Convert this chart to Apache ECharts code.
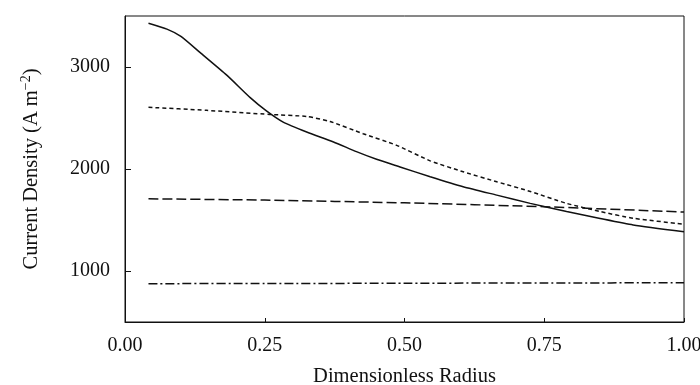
<!DOCTYPE html>
<html>
<head>
<meta charset="utf-8">
<script src="https://cdn.jsdelivr.net/npm/echarts@6/dist/echarts.min.js"></script>
<style>
  html, body { margin: 0; padding: 0; background: #fff; }
  #chart { width: 700px; height: 385px; }
</style>
</head>
<body>
<div id="chart"></div>
<script>
const myChart = echarts.init(document.getElementById('chart'));

// radius positions (dimensionless) and current density (A m^-2)
const solidX = [0.042, 0.075, 0.1, 0.134, 0.182, 0.224, 0.253, 0.283, 0.325, 0.373, 0.414, 0.45, 0.492, 0.546, 0.605, 0.665, 0.725, 0.79, 0.85, 0.909, 1.0];
const solidY = [3429, 3371, 3300, 3143, 2920, 2700, 2570, 2460, 2363, 2265, 2170, 2095, 2020, 1924, 1826, 1744, 1663, 1583, 1515, 1452, 1385];

const dottedX = [0.042, 0.146, 0.259, 0.325, 0.367, 0.426, 0.486, 0.546, 0.605, 0.665, 0.725, 0.79, 0.85, 0.909, 1.0];
const dottedY = [2605, 2575, 2535, 2515, 2465, 2346, 2232, 2080, 1973, 1875, 1780, 1663, 1583, 1517, 1459];

const dashedX = [0.042, 0.25, 0.5, 0.75, 1.0];
const dashedY = [1708, 1695, 1668, 1630, 1578];

const dashDotX = [0.042, 0.25, 0.5, 0.75, 1.0];
const dashDotY = [876, 877, 880, 883, 884];

const yTicks = [1000, 2000, 3000];

function pairs(xs, ys) {
  return xs.map(function (x, i) { return [x, ys[i]]; });
}

const font = 'Liberation Serif';
const ink = '#111';

function line(name, xs, ys, type) {
  return {
    name: name,
    type: 'line',
    data: pairs(xs, ys),
    smooth: 0.2,
    showSymbol: false,
    lineStyle: { color: ink, width: 1.5, type: type }
  };
}

let options = {
  animation: false,
  backgroundColor: '#fff',
  grid: {
    left: 125,
    right: 16,
    top: 16,
    bottom: 63,
    outerBoundsMode: 'none',
    containLabel: false,
    show: true,
    borderColor: ink,
    borderWidth: 1
  },
  xAxis: {
    type: 'value',
    min: 0,
    max: 1,
    interval: 0.25,
    name: 'Dimensionless Radius',
    nameLocation: 'middle',
    nameGap: 44,
    nameTextStyle: { fontFamily: font, fontSize: 20.5, color: ink },
    axisLine: { lineStyle: { color: ink } },
    axisTick: { inside: true, length: 4, lineStyle: { color: ink } },
    axisLabel: {
      margin: 14,
      fontFamily: font,
      fontSize: 20,
      color: ink,
      formatter: function (v) { return v.toFixed(2); }
    },
    splitLine: { show: false }
  },
  yAxis: {
    type: 'value',
    min: 500,
    max: 3500,
    name: 'Current Density (A m{sup|−2})',
    nameLocation: 'middle',
    nameGap: 80,
    nameTextStyle: {
      fontFamily: font,
      fontSize: 20.5,
      color: ink,
      lineHeight: 26,
      rich: {
        sup: { fontFamily: font, fontSize: 14, color: ink, verticalAlign: 'top', lineHeight: 26, padding: [0, 0, 10, 0] }
      }
    },
    axisLine: { show: true, lineStyle: { color: ink } },
    axisTick: { show: true, inside: true, length: 6, customValues: yTicks, lineStyle: { color: ink } },
    axisLabel: {
      margin: 15,
      fontFamily: font,
      fontSize: 20,
      color: ink,
      customValues: yTicks,
      formatter: function (v) { return String(v); }
    },
    splitLine: { show: false }
  },
  series: [
    line('solid', solidX, solidY, 'solid'),
    line('dotted', dottedX, dottedY, [4, 3]),
    line('dashed', dashedX, dashedY, [10, 4]),
    line('dashdot', dashDotX, dashDotY, [9, 3, 2, 3])
  ]
};

myChart.setOption(options);
</script>
</body>
</html>
